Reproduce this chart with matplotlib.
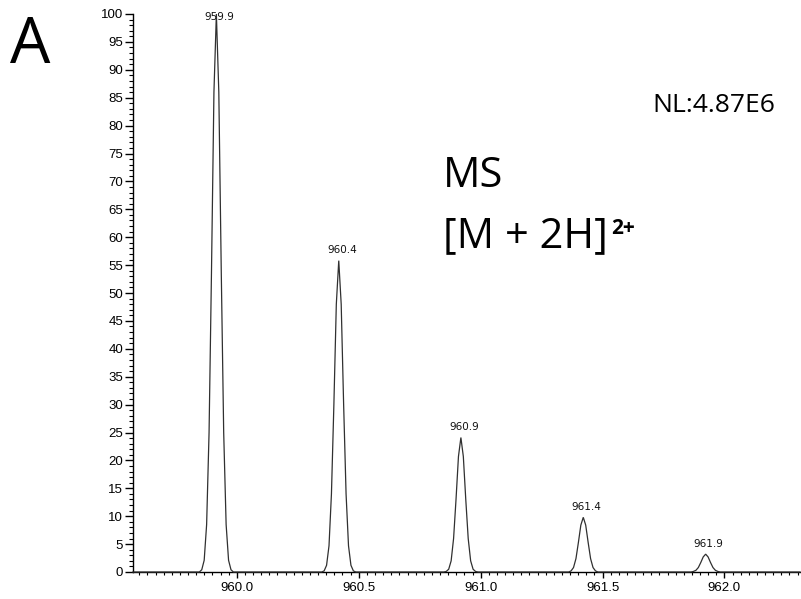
import matplotlib
matplotlib.use("Agg")
import matplotlib.pyplot as plt
from matplotlib.ticker import MultipleLocator, FixedLocator

# ---- data ----
peak_centers = [959.916, 960.418, 960.919, 961.421, 961.923]
peak_labels = ["959.9", "960.4", "960.9", "961.4", "961.9"]
peak_heights = [100.0, 55.8, 24.1, 9.8, 3.2]

# profile sample positions (m/z offsets from each peak apex)
profile_offsets = [-0.06, -0.05, -0.04, -0.03, -0.02, -0.01, 0.0,
                   0.01, 0.02, 0.03, 0.04, 0.05, 0.06]
# relative abundance (%) of each profile point
profile_1 = [0.4, 2.1, 8.5, 25.0, 54.0, 86.0, 100.0, 86.0, 54.0, 25.0, 8.5, 2.1, 0.4]
profile_2 = [0.2, 1.2, 4.7, 14.0, 30.0, 48.0, 55.8, 48.0, 30.0, 14.0, 4.7, 1.2, 0.2]
profile_3 = [0.1, 0.5, 2.0, 6.0, 13.0, 20.7, 24.1, 20.7, 13.0, 6.0, 2.0, 0.5, 0.1]
profile_4 = [0.0, 0.2, 0.8, 2.4, 5.3, 8.4, 9.8, 8.4, 5.3, 2.4, 0.8, 0.2, 0.0]
profile_5 = [0.0, 0.1, 0.3, 0.8, 1.7, 2.7, 3.2, 2.7, 1.7, 0.8, 0.3, 0.1, 0.0]
profiles = [profile_1, profile_2, profile_3, profile_4, profile_5]

x_range = (959.574, 962.31)
y_ticks = list(range(0, 101, 5))
x_ticks = [960.0, 960.5, 961.0, 961.5, 962.0]
x_ticklabels = ["960.0", "960.5", "961.0", "961.5", "962.0"]

nl_text = "NL:4.87E6"
panel_letter = "A"

# ---- build the spectrum trace ----
mz = [x_range[0]]
inten = [0.0]
for c, prof in zip(peak_centers, profiles):
    mz.append(c + profile_offsets[0] - 0.01)
    inten.append(0.0)
    for off, v in zip(profile_offsets, prof):
        mz.append(c + off)
        inten.append(v)
    mz.append(c + profile_offsets[-1] + 0.01)
    inten.append(0.0)
mz.append(x_range[1])
inten.append(0.0)

# ---- figure ----
fig = plt.figure(figsize=(8.01, 5.99), dpi=100)
W, H = 801, 599
ax = fig.add_axes([133 / W, (H - 572) / H, (800 - 133) / W, (572 - 14) / H])

ax.plot(mz, inten, color="#303030", lw=0.9, solid_joinstyle="miter",
        clip_on=False, zorder=3)

ax.set_xlim(*x_range)
ax.set_ylim(0, 100)

for s in ["top", "right"]:
    ax.spines[s].set_visible(False)
for s in ["left", "bottom"]:
    ax.spines[s].set_linewidth(1.0)
    ax.spines[s].set_color("black")

tick_font = dict(family=["Liberation Sans", "DejaVu Sans"], size=9.5)
ax.yaxis.set_major_locator(FixedLocator(y_ticks))
ax.yaxis.set_minor_locator(MultipleLocator(1))
ax.set_yticklabels([str(v) for v in y_ticks], **tick_font)
ax.xaxis.set_major_locator(FixedLocator(x_ticks))
ax.xaxis.set_minor_locator(MultipleLocator(1 / 30))
ax.set_xticklabels(x_ticklabels, **tick_font)

ax.tick_params(axis="y", which="major", direction="out", length=6, width=1.0, pad=1)
ax.tick_params(axis="y", which="minor", direction="out", length=3, width=0.8)
ax.tick_params(axis="x", which="major", direction="out", length=4, width=1.0, pad=3)
ax.tick_params(axis="x", which="minor", direction="out", length=2, width=0.8)

# peak labels
for c, h, lab in zip(peak_centers, peak_heights, peak_labels):
    ax.annotate(lab, xy=(c, min(h + 1.9, 99.4)), xytext=(3, 0),
                textcoords="offset pixels", ha="center", va="center",
                fontsize=7.5, family=["DejaVu Sans"], color="#111111")

# annotations
fig.text(10 / W, (H - 63) / H, panel_letter, fontsize=46,
         family=["Open Sans", "DejaVu Sans"], va="baseline", ha="left")
fig.text(652 / W, (H - 112) / H, nl_text, fontsize=19,
         family=["Open Sans", "DejaVu Sans"], va="baseline", ha="left")
fig.text(443 / W, (H - 187) / H, "MS", fontsize=30,
         family=["Open Sans", "DejaVu Sans"], va="baseline", ha="left")
t2 = fig.text(443 / W, (H - 247) / H, "[M + 2H]", fontsize=30,
              family=["Open Sans", "DejaVu Sans"], va="baseline", ha="left")
ax.annotate("2+", xy=(1, 1), xycoords=t2, xytext=(3, -3),
            textcoords="offset pixels", ha="left", va="top",
            fontsize=15, fontweight="bold",
            family=["Open Sans", "DejaVu Sans"], annotation_clip=False)

fig.savefig("out.png", dpi=100)
